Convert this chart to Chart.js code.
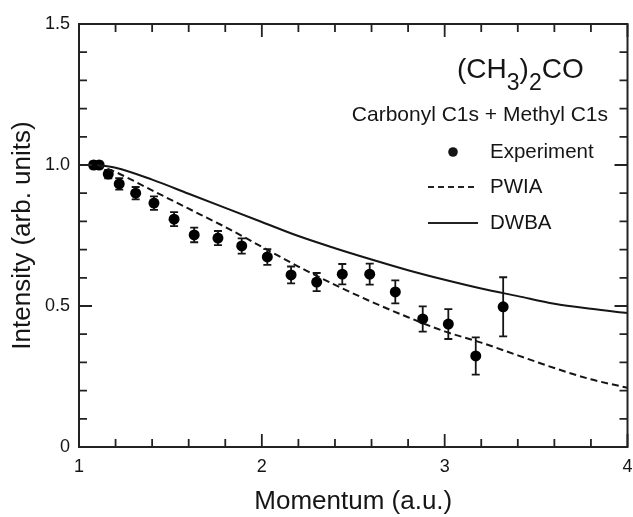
<!DOCTYPE html>
<html lang="en">
<head>
<meta charset="UTF-8">
<title>Intensity vs Momentum</title>
<script src="https://cdn.jsdelivr.net/npm/chart.js"></script>
<style>
  html, body { margin: 0; padding: 0; background: #fff; }
  #wrap { width: 633px; height: 517px; }
</style>
</head>
<body>
<div id="wrap"><canvas id="grafico"></canvas></div>
<script>
// experiment points
const momentoExp = [1.08, 1.11, 1.16, 1.22, 1.31, 1.41, 1.52, 1.63, 1.76, 1.89, 2.03, 2.16, 2.30, 2.44, 2.59, 2.73, 2.88, 3.02, 3.17, 3.32];
const intensidadeExp = [1.0, 1.0, 0.968, 0.933, 0.90, 0.865, 0.808, 0.752, 0.741, 0.713, 0.674, 0.610, 0.585, 0.613, 0.613, 0.55, 0.454, 0.436, 0.323, 0.497];
const erroExp = [0.012, 0.012, 0.015, 0.02, 0.022, 0.024, 0.025, 0.026, 0.025, 0.027, 0.028, 0.03, 0.032, 0.036, 0.037, 0.041, 0.045, 0.053, 0.066, 0.105];

// theory curves
const momentoTeoria = [1.1, 1.2, 1.4, 1.6, 1.8, 2.0, 2.2, 2.4, 2.6, 2.8, 3.0, 3.2, 3.4, 3.6, 3.8, 4.0];
const pwia = [1.0, 0.975, 0.91, 0.845, 0.78, 0.71, 0.64, 0.575, 0.515, 0.46, 0.41, 0.37, 0.325, 0.28, 0.24, 0.21];
const dwba = [1.0, 0.99, 0.948, 0.898, 0.848, 0.798, 0.748, 0.705, 0.665, 0.627, 0.593, 0.562, 0.535, 0.508, 0.49, 0.475];

// axis ticks
const xTicks = [1, 2, 3, 4];
const yTicks = [0, 0.5, 1.0, 1.5];

const FONTE = '"Liberation Sans", Arial, Helvetica, sans-serif';
const COR = '#151515';

function pares(xs, ys) {
  return xs.map((x, i) => ({ x: x, y: ys[i] }));
}

// frame, inward ticks, error bars and the legend block
const extras = {
  id: 'extras',
  beforeDatasetsDraw(chart) {
    const ctx = chart.ctx;
    const sx = chart.scales.x, sy = chart.scales.y;
    ctx.save();
    ctx.strokeStyle = COR;
    ctx.lineWidth = 1.8;
    momentoExp.forEach((m, i) => {
      const px = sx.getPixelForValue(m);
      const top = sy.getPixelForValue(intensidadeExp[i] + erroExp[i]);
      const bot = sy.getPixelForValue(intensidadeExp[i] - erroExp[i]);
      ctx.beginPath();
      ctx.moveTo(px, top); ctx.lineTo(px, bot);
      ctx.moveTo(px - 4, top); ctx.lineTo(px + 4, top);
      ctx.moveTo(px - 4, bot); ctx.lineTo(px + 4, bot);
      ctx.stroke();
    });
    ctx.restore();
  },
  afterDraw(chart) {
    const ctx = chart.ctx;
    const a = chart.chartArea;
    const sx = chart.scales.x, sy = chart.scales.y;
    ctx.save();
    ctx.strokeStyle = '#222';
    ctx.lineWidth = 2;
    ctx.strokeRect(a.left, a.top, a.right - a.left, a.bottom - a.top);

    ctx.lineWidth = 1.8;
    ctx.beginPath();
    for (let k = 0; k <= 15; k++) {
      const v = 1 + k * 0.2;
      const px = sx.getPixelForValue(v);
      const len = k % 5 === 0 ? 13 : 8;
      ctx.moveTo(px, a.bottom); ctx.lineTo(px, a.bottom - len);
      ctx.moveTo(px, a.top); ctx.lineTo(px, a.top + len);
    }
    for (let k = 0; k <= 15; k++) {
      const v = k * 0.1;
      const py = sy.getPixelForValue(v);
      const len = k % 5 === 0 ? 13 : 8;
      ctx.moveTo(a.left, py); ctx.lineTo(a.left + len, py);
      ctx.moveTo(a.right, py); ctx.lineTo(a.right - len, py);
    }
    ctx.stroke();

    // molecule label with subscripts
    ctx.fillStyle = COR;
    ctx.textBaseline = 'alphabetic';
    ctx.textAlign = 'left';
    let x = 457;
    const partes = [['(CH', 28, 0], ['3', 23, 12], [')', 28, 0], ['2', 23, 12], ['CO', 28, 0]];
    partes.forEach(p => {
      ctx.font = p[1] + 'px ' + FONTE;
      ctx.fillText(p[0], x, 78 + p[2]);
      x += ctx.measureText(p[0]).width;
    });

    ctx.font = '21px ' + FONTE;
    ctx.textAlign = 'right';
    ctx.fillText('Carbonyl C1s + Methyl C1s', 608, 121);

    // legend
    ctx.textAlign = 'left';
    ctx.textBaseline = 'middle';
    ctx.font = '20.5px ' + FONTE;
    ctx.beginPath();
    ctx.arc(453, 152, 4.8, 0, Math.PI * 2);
    ctx.fill();
    ctx.fillText('Experiment', 490, 152);

    ctx.lineWidth = 2;
    ctx.setLineDash([6, 4]);
    ctx.beginPath();
    ctx.moveTo(428, 187); ctx.lineTo(478, 187);
    ctx.stroke();
    ctx.fillText('PWIA', 490, 187);

    ctx.setLineDash([]);
    ctx.beginPath();
    ctx.moveTo(428, 223); ctx.lineTo(478, 223);
    ctx.stroke();
    ctx.fillText('DWBA', 490, 223);
    ctx.restore();
  }
};

const ctx = document.getElementById('grafico').getContext('2d');
new Chart(ctx, {
  type: 'scatter',
  data: {
    datasets: [
      {
        label: 'DWBA',
        data: pares(momentoTeoria, dwba),
        showLine: true,
        borderColor: COR,
        borderWidth: 2,
        pointRadius: 0,
        cubicInterpolationMode: 'monotone'
      },
      {
        label: 'PWIA',
        data: pares(momentoTeoria, pwia),
        showLine: true,
        borderColor: COR,
        borderWidth: 2,
        borderDash: [7, 4],
        pointRadius: 0,
        cubicInterpolationMode: 'monotone'
      },
      {
        label: 'Experiment',
        data: pares(momentoExp, intensidadeExp),
        showLine: false,
        pointRadius: 5.5,
        pointBackgroundColor: '#000',
        pointBorderColor: '#000',
        pointBorderWidth: 0
      }
    ]
  },
  options: {
    responsive: true,
    maintainAspectRatio: false,
    animation: false,
    events: [],
    layout: { padding: { left: 0, right: 5, top: 24, bottom: 0 } },
    plugins: {
      legend: { display: false },
      tooltip: { enabled: false }
    },
    scales: {
      x: {
        type: 'linear',
        min: 1,
        max: 4,
        afterFit: s => { s.height = 70; s.paddingLeft = 0; s.paddingRight = 0; },
        afterBuildTicks: s => { s.ticks = xTicks.map(v => ({ value: v })); },
        grid: { display: false, drawTicks: false },
        border: { display: false },
        ticks: {
          padding: 9,
          color: COR,
          font: { family: FONTE, size: 18 },
          callback: v => String(v)
        },
        title: {
          display: true,
          text: 'Momentum (a.u.)',
          color: COR,
          font: { family: FONTE, size: 26 },
          padding: { top: 0, bottom: 0 }
        }
      },
      y: {
        type: 'linear',
        min: 0,
        max: 1.5,
        afterFit: s => { s.width = 79; s.paddingTop = 0; s.paddingBottom = 0; },
        afterBuildTicks: s => { s.ticks = yTicks.map(v => ({ value: v })); },
        grid: { display: false, drawTicks: false },
        border: { display: false },
        ticks: {
          padding: 9,
          color: COR,
          font: { family: FONTE, size: 18 },
          callback: v => (v === 0 ? '0' : v.toFixed(1))
        },
        title: {
          display: true,
          text: 'Intensity (arb. units)',
          color: COR,
          font: { family: FONTE, size: 26 },
          padding: { top: 7, bottom: 0 }
        }
      }
    }
  },
  plugins: [extras]
});
</script>
</body>
</html>
